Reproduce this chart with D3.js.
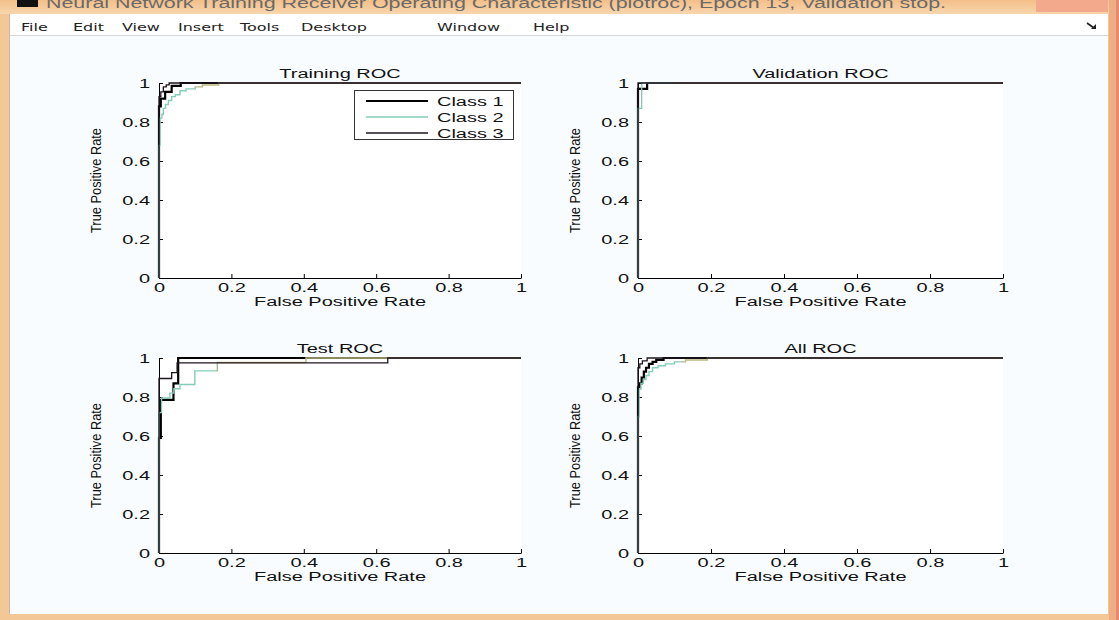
<!DOCTYPE html>
<html>
<head>
<meta charset="utf-8">
<script src="https://cdn.jsdelivr.net/npm/d3@7"></script>
<style>
body{margin:0;background:#f7fbfd;}
svg{display:block;font-family:"Liberation Sans",Arial,sans-serif;}
</style>
</head>
<body>
<svg id="fig" width="1119" height="620"></svg>
<script>
var windowTitle = 'Neural Network Training Receiver Operating Characteristic (plotroc), Epoch 13, Validation stop.'
var menuItems = ['File', 'Edit', 'View', 'Insert', 'Tools', 'Desktop', 'Window', 'Help']
var classNames = ['Class 1', 'Class 2', 'Class 3']
var panelTitles = ['Training ROC', 'Validation ROC', 'Test ROC', 'All ROC']
var tickValues = [0, 0.2, 0.4, 0.6, 0.8, 1]
var xLabel = 'False Positive Rate'
var yLabel = 'True Positive Rate'

// roc points [false positive rate, true positive rate]
var trainC1 = [[0,0],[0,0.88],[0.005,0.92],[0.017,0.955],[0.035,0.985],[0.06,1],[1,1]]
var trainC2 = [[0,0],[0,0.68],[0.003,0.82],[0.008,0.84],[0.012,0.87],[0.018,0.89],[0.026,0.91],[0.035,0.93],[0.045,0.94],[0.058,0.96],[0.075,0.97],[0.1,0.98],[0.12,0.99],[0.165,1],[1,1]]
var trainC3 = [[0,0],[0,0.93],[0.005,0.955],[0.012,0.98],[0.02,0.99],[0.028,1],[1,1]]

var valC1 = [[0,0],[0,0.97],[0.025,1],[1,1]]
var valC2 = [[0,0],[0,0.87],[0.01,1],[1,1]]
var valC3 = [[0,0],[0,1],[1,1]]

var testC1 = [[0,0],[0,0.59],[0.005,0.785],[0.04,0.87],[0.053,1],[1,1]]
var testC2 = [[0,0],[0,0.72],[0.007,0.795],[0.03,0.82],[0.041,0.842],[0.058,0.864],[0.099,0.934],[0.161,0.977],[0.406,1],[1,1]]
var testC3 = [[0,0],[0,0.895],[0.035,0.925],[0.05,0.975],[0.632,1],[1,1]]

var allC1 = [[0,0],[0,0.85],[0.005,0.87],[0.01,0.9],[0.016,0.93],[0.022,0.95],[0.03,0.97],[0.04,0.98],[0.05,0.99],[0.07,1],[1,1]]
var allC2 = [[0,0],[0,0.7],[0.003,0.84],[0.008,0.87],[0.015,0.89],[0.022,0.91],[0.03,0.93],[0.04,0.95],[0.055,0.96],[0.075,0.97],[0.1,0.98],[0.13,0.99],[0.19,1],[1,1]]
var allC3 = [[0,0],[0,0.95],[0.005,0.97],[0.012,0.985],[0.025,1],[1,1]]

var curves = [
  [trainC1, trainC2, trainC3],
  [valC1, valC2, valC3],
  [testC1, testC2, testC3],
  [allC1, allC2, allC3]
]

var S = 1.6 // the screenshot is stretched sideways
var colors = ['#000', '#86cbb9', '#1e1420']
var widths = [2.2, 1.4, 1.3]
var olive = '#bab67e'
var cols = [[159, 521], [638, 1003]]
var rows = [[278, 83], [553, 358]]
var oliveFrom = [0.1, 0.1, 0.16, 0.12]

var svg = d3.select('#fig')
var defs = svg.append('defs')

function stext(g, x, y, str, size, anchor){
  return g.append('text')
    .attr('transform', 'translate(' + x + ',' + y + ') scale(' + S + ',1)')
    .attr('text-anchor', anchor || 'start')
    .style('font-size', size + 'px')
    .text(str)
}

// window frame
var tg = defs.append('linearGradient').attr('id', 'tbar').attr('x1', 0).attr('x2', 0).attr('y1', 0).attr('y2', 1)
tg.append('stop').attr('offset', 0).attr('stop-color', '#f3bf88')
tg.append('stop').attr('offset', 1).attr('stop-color', '#f9d6ae')
svg.append('rect').attr('width', 1119).attr('height', 620).attr('fill', '#f4c796')
svg.append('rect').attr('width', 1119).attr('height', 14).attr('fill', 'url(#tbar)')
svg.append('rect').attr('x', 1036).attr('width', 72).attr('height', 12).attr('fill', '#f3a98c')
svg.append('rect').attr('x', 1109).attr('width', 10).attr('height', 620).attr('fill', '#f0ad84')
svg.append('rect').attr('x', 1116).attr('width', 3).attr('height', 620).attr('fill', '#e58a6c')
svg.append('rect').attr('x', 17).attr('width', 21).attr('height', 7).attr('fill', '#111')
stext(svg, 46, 8, windowTitle, 14, 'start')
  .attr('fill', '#6a6a6a')
  .attr('textLength', 900 / S).attr('lengthAdjust', 'spacingAndGlyphs')

svg.append('rect').attr('x', 9).attr('y', 14).attr('width', 1099).attr('height', 600).attr('fill', '#f8fcfe')
svg.append('rect').attr('x', 9).attr('y', 14).attr('width', 1099).attr('height', 21).attr('fill', '#fff')
svg.append('line').attr('x1', 9).attr('x2', 1108).attr('y1', 35.5).attr('y2', 35.5).attr('stroke', '#d6d6d6')
svg.append('line').attr('x1', 9.5).attr('x2', 9.5).attr('y1', 14).attr('y2', 614).attr('stroke', '#c9b9a8')

var menuX = [21, 73, 122, 178, 240, 301, 437, 533]
var menu = svg.append('g').style('font-family', '"DejaVu Sans",sans-serif').attr('fill', '#222')
menuItems.forEach(function(m, i){ stext(menu, menuX[i], 30.5, m, 10, 'start') })
svg.append('path').attr('d', 'M1087,23 L1094,28').attr('stroke', '#222').attr('stroke-width', 1.6)
svg.append('path').attr('d', 'M1091,29 L1096,29 L1096,24 Z').attr('fill', '#222')

var line = d3.line().curve(d3.curveStepAfter)

panelTitles.forEach(function(title, p){
  var cx = cols[p % 2], ry = rows[Math.floor(p / 2)]
  var x = d3.scaleLinear().domain([0, 1]).range(cx)
  var y = d3.scaleLinear().domain([0, 1]).range(ry)
  var g = svg.append('g')

  g.append('rect').attr('x', cx[0]).attr('y', ry[1]).attr('width', cx[1] - cx[0]).attr('height', ry[0] - ry[1]).attr('fill', '#fff')

  var gid = 'c2grad' + p
  var gr = defs.append('linearGradient').attr('id', gid).attr('gradientUnits', 'userSpaceOnUse')
    .attr('x1', x(0)).attr('x2', x(1)).attr('y1', 0).attr('y2', 0)
  gr.append('stop').attr('offset', oliveFrom[p] - 0.005).attr('stop-color', colors[1])
  gr.append('stop').attr('offset', oliveFrom[p] + 0.005).attr('stop-color', olive)

  var xa = g.append('g').attr('transform', 'translate(0,' + ry[0] + ')')
    .call(d3.axisBottom(x).tickValues(tickValues).tickSize(-4).tickSizeOuter(0).tickPadding(5.5).tickFormat(d3.format('~g')))
  var ya = g.append('g').attr('transform', 'translate(' + cx[0] + ',0)')
    .call(d3.axisLeft(y).tickValues(tickValues).tickSize(-4).tickSizeOuter(0).tickPadding(9).tickFormat(d3.format('~g')))
  ;[xa, ya].forEach(function(a){
    a.attr('font-size', null).attr('font-family', null).attr('color', '#000')
    a.selectAll('.tick text').style('font-size', '12.5px').attr('fill', '#111')
      .attr('transform', 'scale(' + S + ',1)')
  })
  ya.selectAll('.tick text').attr('x', -9 / S)

  curves[p].forEach(function(pts, k){
    g.append('path')
      .attr('d', line(pts.map(function(d){ return [x(d[0]), y(d[1])] })))
      .attr('fill', 'none')
      .attr('stroke', k == 1 ? 'url(#' + gid + ')' : colors[k])
      .attr('stroke-width', widths[k])
  })

  stext(g, (cx[0] + cx[1]) / 2, ry[1] - 5, title, 12.5, 'middle').attr('fill', '#111')
  stext(g, (cx[0] + cx[1]) / 2, ry[0] + 27.5, xLabel, 12.5, 'middle').attr('fill', '#111')
  g.append('text')
    .attr('transform', 'translate(' + (cx[0] - 58) + ',' + (ry[0] + ry[1]) / 2 + ') rotate(-90)')
    .attr('text-anchor', 'middle').style('font-size', '14px').attr('fill', '#111')
    .attr('textLength', 105).attr('lengthAdjust', 'spacingAndGlyphs')
    .text(yLabel)

  if (p == 0){
    var lg = g.append('g')
    lg.append('rect').attr('x', 354.5).attr('y', 90.5).attr('width', 159).attr('height', 49)
      .attr('fill', '#fff').attr('stroke', '#333')
    classNames.forEach(function(name, k){
      var ly = 101 + k * 16
      lg.append('line').attr('x1', 366).attr('x2', 428).attr('y1', ly).attr('y2', ly)
        .attr('stroke', colors[k]).attr('stroke-width', widths[k])
      stext(lg, 437, ly + 4.5, name, 12.5, 'start').attr('fill', '#111')
    })
  }
})
</script>
</body>
</html>
